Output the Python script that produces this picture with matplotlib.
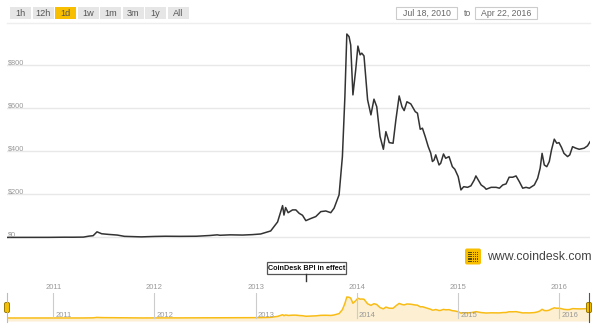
import matplotlib
matplotlib.use("Agg")
import matplotlib.pyplot as plt
from matplotlib.patches import Rectangle, FancyBboxPatch
import pandas as pd

plt.rcParams['font.family'] = ['Liberation Sans', 'DejaVu Sans']

# price (USD)
dates = ["2010-07-18", "2010-09-01", "2010-10-15", "2010-11-10", "2010-12-15", "2011-02-10",
         "2011-03-15", "2011-04-20", "2011-05-10", "2011-05-25", "2011-06-08", "2011-06-25",
         "2011-07-20", "2011-08-20", "2011-09-15", "2011-10-10", "2011-11-15", "2011-12-31",
         "2012-02-10", "2012-04-01", "2012-06-01", "2012-07-20", "2012-08-15", "2012-08-25",
         "2012-10-01", "2012-11-15", "2012-12-20", "2013-01-19", "2013-02-24", "2013-03-21",
         "2013-04-08", "2013-04-13", "2013-04-19", "2013-04-28", "2013-05-14", "2013-05-26",
         "2013-06-07", "2013-06-19", "2013-07-01", "2013-07-19", "2013-08-06", "2013-08-24",
         "2013-09-11", "2013-09-29", "2013-10-11", "2013-10-29", "2013-11-10", "2013-11-19",
         "2013-11-26", "2013-12-04", "2013-12-10", "2013-12-18", "2013-12-28", "2014-01-05",
         "2014-01-13", "2014-01-19", "2014-01-27", "2014-02-09", "2014-02-21", "2014-03-04",
         "2014-03-14", "2014-03-26", "2014-04-07", "2014-04-16", "2014-04-28", "2014-05-12",
         "2014-05-22", "2014-06-03", "2014-06-13", "2014-06-21", "2014-07-01", "2014-07-15",
         "2014-07-31", "2014-08-08", "2014-08-18", "2014-08-26", "2014-09-05", "2014-09-16",
         "2014-09-25", "2014-10-01", "2014-10-07", "2014-10-13", "2014-10-25", "2014-10-31",
         "2014-11-10", "2014-11-18", "2014-11-30", "2014-12-12", "2014-12-21", "2015-01-02",
         "2015-01-12", "2015-01-22", "2015-02-05", "2015-02-17", "2015-03-01", "2015-03-07",
         "2015-03-26", "2015-04-07", "2015-04-13", "2015-05-01", "2015-05-19", "2015-05-31",
         "2015-06-12", "2015-06-24", "2015-07-05", "2015-07-18", "2015-07-30", "2015-08-11",
         "2015-08-23", "2015-09-04", "2015-09-16", "2015-10-04", "2015-10-16", "2015-10-25",
         "2015-11-01", "2015-11-09", "2015-11-18", "2015-11-27", "2015-12-05", "2015-12-15",
         "2015-12-24", "2016-01-01", "2016-01-10", "2016-01-19", "2016-02-01", "2016-02-09",
         "2016-02-19", "2016-03-02", "2016-03-14", "2016-04-01", "2016-04-13", "2016-04-22"]
prices = [0.05, 0.06, 0.1, 0.3, 0.25, 1.0,
          0.9, 1.5, 6, 8, 26, 17,
          14, 11, 5, 4, 2.5, 4.5,
          5.5, 5, 5.5, 9, 12, 10,
          12, 11, 13, 16, 30, 72,
          148, 104, 139, 115, 128, 128,
          112, 103, 78, 88, 97, 120,
          123, 115, 136, 198, 376, 655,
          946, 934, 895, 663, 779, 890,
          849, 857, 844, 640, 570, 643,
          608, 469, 410, 492, 441, 438,
          546, 658, 608, 590, 631, 621,
          585, 578, 503, 508, 469, 422,
          392, 353, 360, 384, 337, 345,
          388, 368, 376, 329, 317, 283,
          221, 236, 233, 240, 267, 286,
          244, 233, 224, 233, 233, 229,
          244, 249, 280, 280, 286, 259,
          229, 233, 229, 244, 275, 322,
          391, 337, 329, 353, 407, 457,
          438, 441, 419, 391, 376, 384,
          422, 415, 410, 415, 426, 445]
y_ticks = [0, 200, 400, 600, 800]
years = [2011, 2012, 2013, 2014, 2015, 2016]
buttons = ["1h", "12h", "1d", "1w", "1m", "3m", "1y", "All"]
selected = "1d"
date_from = "Jul 18, 2010"
date_to = "Apr 22, 2016"

x = pd.to_datetime(dates)
start, end = pd.Timestamp("2010-07-18"), pd.Timestamp("2016-04-22")

W, H = 596, 331
fig = plt.figure(figsize=(W / 100, H / 100), dpi=100)

# overlay in pixel coords for the UI bits
ov = fig.add_axes([0, 0, 1, 1], zorder=0)
ov.set_xlim(0, W)
ov.set_ylim(H, 0)
ov.axis("off")

bx = [10, 33, 55, 78, 100, 123, 145, 168]
for lab, x0 in zip(buttons, bx):
    fc = "#f8be00" if lab == selected else "#e6e6e6"
    ov.add_patch(Rectangle((x0, 7), 21, 12, fc=fc, ec="none"))
    ov.text(x0 + 10.5, 13.2, lab, ha="center", va="center", fontsize=6.6, color="#555555")
ov.plot([7, 590], [22.5, 22.5], color="#eeeeee", lw=1)

ov.add_patch(Rectangle((396, 7), 61, 12, fc="white", ec="#cccccc", lw=0.8))
ov.text(426.5, 13.2, date_from, ha="center", va="center", fontsize=6.3, color="#666666")
ov.text(467.5, 13.5, "to", ha="center", va="center", fontsize=6.3, color="#666666")
ov.add_patch(Rectangle((475, 7), 62, 12, fc="white", ec="#cccccc", lw=0.8))
ov.text(506, 13.2, date_to, ha="center", va="center", fontsize=6.3, color="#666666")

# logo
ov.add_patch(FancyBboxPatch((465, 248.5), 16, 16, boxstyle="round,pad=0,rounding_size=2",
                            fc="#f8be00", ec="none"))
for i in range(5):
    for j in range(5):
        ov.add_patch(Rectangle((468.2 + i * 2.2, 251.7 + j * 2.2), 1.3, 1.3, fc="#5a4a10", ec="none"))
ov.text(487, 257, "www.coindesk.com", ha="left", va="center", fontsize=8.8, color="#444444")

# BPI flag
ov.add_patch(Rectangle((267, 262), 79, 11.5, fc="white", ec="#555555", lw=0.9))
ov.text(306.5, 268, "CoinDesk BPI in effect", ha="center", va="center", fontsize=5.2,
        fontweight="bold", color="#111111")
ov.plot([306, 306], [273.5, 281], color="#333333", lw=1)

# main chart
ax = fig.add_axes([7 / W, 1 - 240 / H, 583 / W, 215 / H], zorder=1)
ax.patch.set_alpha(0)
ax.set_xlim(start, end)
ax.set_ylim(-12, 988)
for t in y_ticks:
    ax.axhline(t, color="#e8e8e8", lw=1, zorder=0)
    ax.text(0.002, t + 5, "$%d" % t, transform=ax.get_yaxis_transform(), fontsize=5.3,
            color="#999999", va="baseline", ha="left")
ax.plot(x, prices, color="#333333", lw=1.1, zorder=2)
ax.axis("off")

# navigator
nav = fig.add_axes([7 / W, 1 - 321 / H, 583 / W, 28 / H], zorder=1)
nav.patch.set_alpha(0)
nav.set_xlim(start, end)
nav.set_ylim(-135, 1126)
nav.fill_between(x, prices, -135, color="#fcefd2", lw=0)
nav.plot(x, prices, color="#f8bc14", lw=1.1)
for yr in years:
    d = pd.Timestamp("%d-01-01" % yr)
    nav.plot([d, d], [1126, 0], color="#cccccc", lw=0.8)
    nav.text(d, 1.18, str(yr), transform=nav.get_xaxis_transform(), ha="center", va="center",
             fontsize=5.5, color="#999999", clip_on=False)
    nav.text(d + pd.Timedelta(days=8), 0.08, str(yr), transform=nav.get_xaxis_transform(),
             ha="left", va="bottom", fontsize=5.5, color="#999999")
nav.axis("off")

ov2 = fig.add_axes([0, 0, 1, 1], zorder=3)
ov2.set_xlim(0, W)
ov2.set_ylim(H, 0)
ov2.axis("off")
ov2.plot([7, 7], [293, 322], color="#bbbbbb", lw=0.8)
ov2.plot([589, 589], [293, 322], color="#555555", lw=0.8)
for hx in (7, 589):
    ov2.add_patch(FancyBboxPatch((hx - 2.5, 302.5), 5, 10, boxstyle="round,pad=0,rounding_size=1.5",
                                 fc="#f5c000", ec="#9a7a00", lw=0.7))

fig.savefig("out.png", dpi=100)
